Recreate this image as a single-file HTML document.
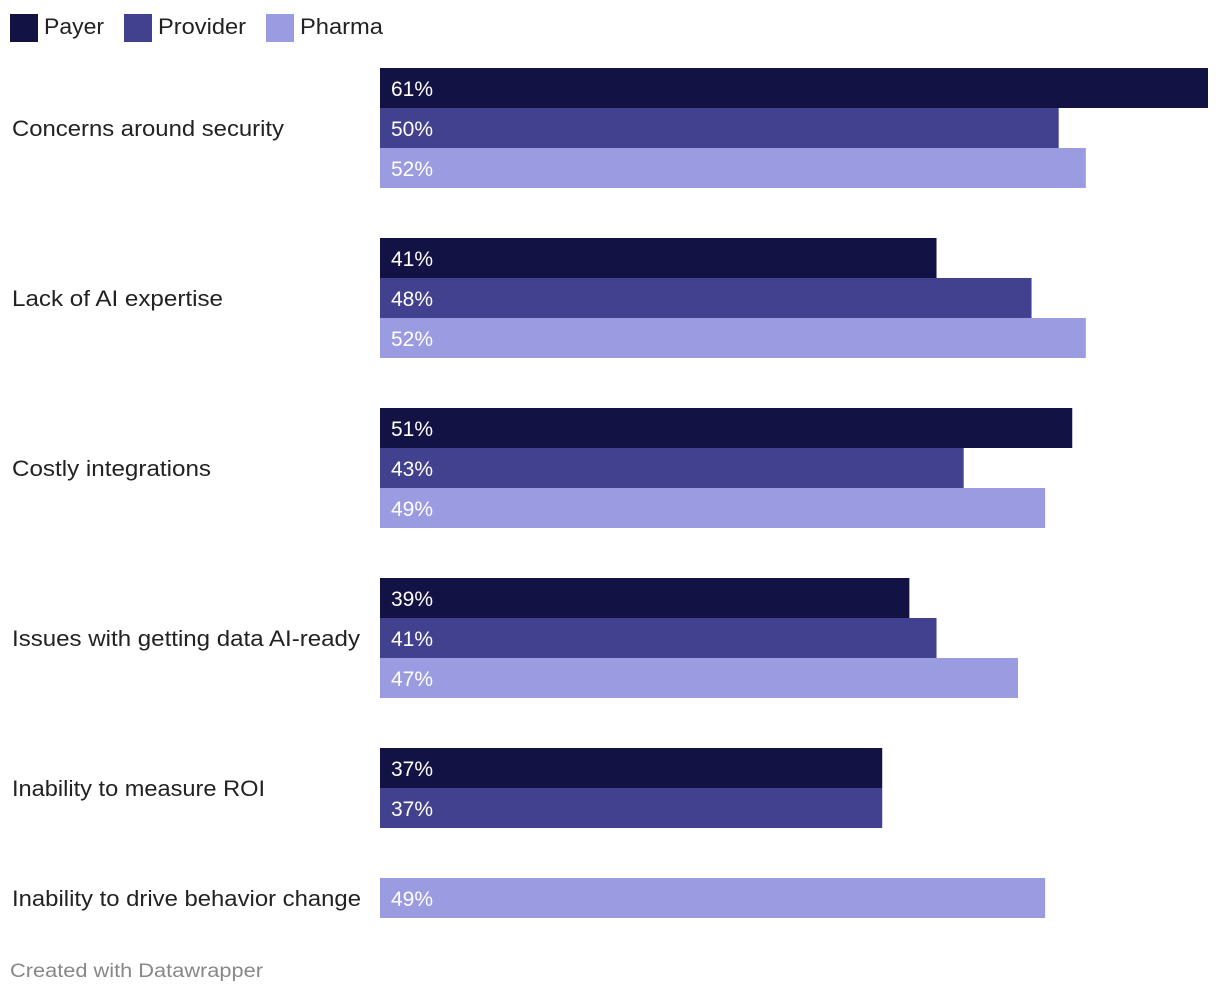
<!DOCTYPE html>
<html><head><meta charset="utf-8"><style>
body{margin:0;background:#fff;width:1220px;height:996px;overflow:hidden;font-family:"Liberation Sans",sans-serif;}
svg text{font-family:"Liberation Sans",sans-serif;}
</style></head><body>
<svg id="chart" width="1220" height="996" xmlns="http://www.w3.org/2000/svg">
<g>
<rect x="10" y="14" width="28" height="28" fill="#121244"/>
<text x="44" y="34" font-size="22" fill="#222" textLength="60" lengthAdjust="spacingAndGlyphs">Payer</text>
<rect x="124" y="14" width="28" height="28" fill="#41418f"/>
<text x="158" y="34" font-size="22" fill="#222" textLength="88" lengthAdjust="spacingAndGlyphs">Provider</text>
<rect x="266" y="14" width="28" height="28" fill="#9b9be2"/>
<text x="300" y="34" font-size="22" fill="#222" textLength="83" lengthAdjust="spacingAndGlyphs">Pharma</text>
</g>
<g id="bars"></g>
<text x="10" y="977" font-size="19" fill="#888" textLength="253" lengthAdjust="spacingAndGlyphs">Created with Datawrapper</text>
</svg>
<script>
const categories = ["Concerns around security","Lack of AI expertise","Costly integrations","Issues with getting data AI-ready","Inability to measure ROI","Inability to drive behavior change"];
const payer = [61,41,51,39,37,null];
const provider = [50,48,43,41,37,null];
const pharma = [52,52,49,47,null,49];
const seriesNames = ["payer","provider","pharma"];
const colors = ["#121244","#41418f","#9b9be2"];
const labelWidths = [272,211,199,348,253,349];
const series = [payer,provider,pharma];
const x0 = 380, pxPer = 828/61, barH = 40, gap = 50;
const xs = v => x0 + v*pxPer;
const g = document.getElementById('bars');
const NS = "http://www.w3.org/2000/svg";
let y = 68;
categories.forEach((c,i)=>{
  const gy = y;
  series.forEach((s,k)=>{
    const v = s[i];
    if(v==null) return;
    const r = document.createElementNS(NS,'rect');
    
    
    r.setAttribute('x',x0); r.setAttribute('y',y);
    r.setAttribute('width',xs(v)-x0); r.setAttribute('height',barH);
    r.setAttribute('fill',colors[k]);
    g.appendChild(r);
    const t = document.createElementNS(NS,'text');
    
    
    t.setAttribute('x',x0+11); t.setAttribute('y',y+28);
    t.setAttribute('font-size','21'); t.setAttribute('fill','#fff');
    t.textContent = v+'%';
    g.appendChild(t);
    y += barH;
  });
  const l = document.createElementNS(NS,'text');
  
  
  l.setAttribute('x',12); l.setAttribute('y',(gy+y)/2+8);
  l.setAttribute('font-size','22'); l.setAttribute('fill','#222');
  l.setAttribute('textLength',labelWidths[i]);
  l.setAttribute('lengthAdjust','spacingAndGlyphs');
  l.textContent = c;
  g.appendChild(l);
  y += gap;
});
</script>
</body></html>
